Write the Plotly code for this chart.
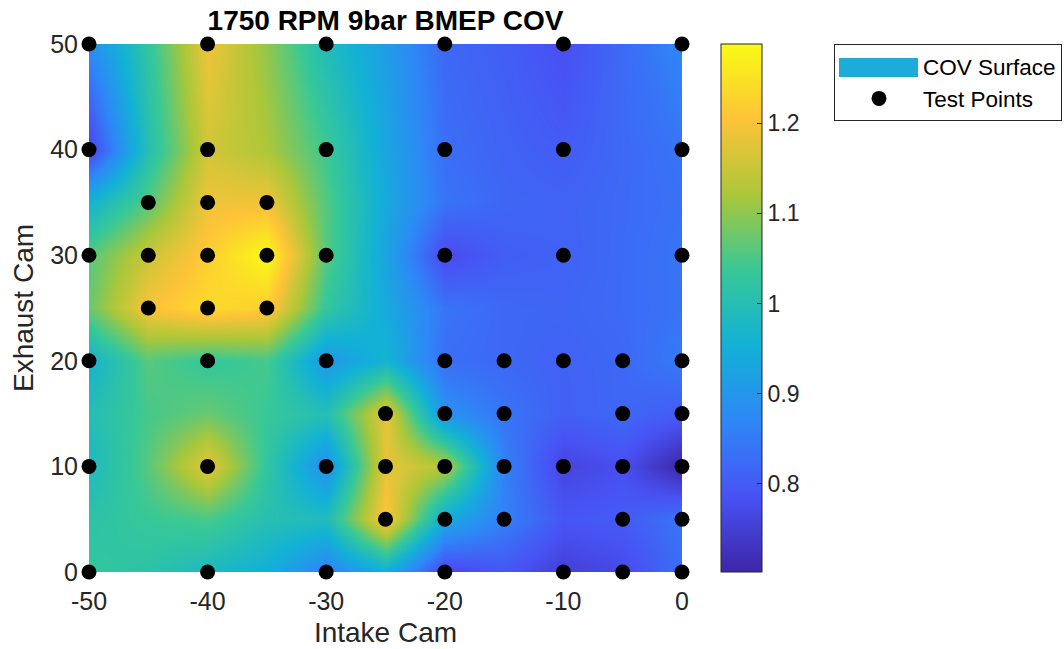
import plotly.graph_objects as go

# Test point coordinates (intake cam, exhaust cam) and COV values
intake = [
    -50, -40, -30, -20, -10, 0,
    -50, -40, -30, -20, -10, 0,
    -45, -40, -35,
    -50, -45, -40, -35, -30, -20, -10, 0,
    -45, -40, -35,
    -50, -40, -30, -20, -15, -10, -5, 0,
    -25, -20, -15, -5, 0,
    -50, -40, -30, -25, -20, -15, -10, -5, 0,
    -25, -20, -15, -5, 0,
    -50, -40, -30, -20, -10, -5, 0,
]
exhaust = [
    50, 50, 50, 50, 50, 50,
    40, 40, 40, 40, 40, 40,
    35, 35, 35,
    30, 30, 30, 30, 30, 30, 30, 30,
    25, 25, 25,
    20, 20, 20, 20, 20, 20, 20, 20,
    15, 15, 15, 15, 15,
    10, 10, 10, 10, 10, 10, 10, 10, 10,
    5, 5, 5, 5, 5,
    0, 0, 0, 0, 0, 0, 0,
]
cov = [
    0.88, 1.19, 0.99, 0.82, 0.78, 0.87,
    0.76, 1.16, 1.04, 0.83, 0.80, 0.84,
    1.06, 1.19, 1.19,
    1.06, 1.15, 1.22, 1.288, 1.06, 0.77, 0.81, 0.84,
    1.20, 1.24, 1.22,
    0.96, 1.03, 0.90, 0.83, 0.82, 0.81, 0.82, 0.85,
    1.18, 0.89, 0.84, 0.82, 0.80,
    0.98, 1.18, 0.88, 1.18, 1.13, 0.86, 0.76, 0.78, 0.702,
    1.21, 0.94, 0.86, 0.80, 0.84,
    1.03, 0.98, 0.86, 0.76, 0.75, 0.77, 0.83,
]

x_ticks = [-50, -40, -30, -20, -10, 0]
x_tick_labels = ["-50", "-40", "-30", "-20", "-10", "0"]
y_ticks = [0, 10, 20, 30, 40, 50]
y_tick_labels = ["0", "10", "20", "30", "40", "50"]
cbar_ticks = [0.8, 0.9, 1.0, 1.1, 1.2]
cbar_tick_labels = ["0.8", "0.9", "1", "1.1", "1.2"]

parula = [
    [0.0, "rgb(62,38,168)"],
    [1 / 7, "rgb(72,82,244)"],
    [2 / 7, "rgb(46,135,247)"],
    [3 / 7, "rgb(18,177,214)"],
    [4 / 7, "rgb(55,200,151)"],
    [5 / 7, "rgb(171,199,57)"],
    [6 / 7, "rgb(254,195,56)"],
    [1.0, "rgb(249,251,21)"],
]

FONT = "Liberation Sans, Arial, sans-serif"
GRAY = "#262626"
SWATCH = "#1BACDA"

fig = go.Figure()

fig.add_trace(go.Contour(
    x=intake, y=exhaust, z=cov,
    connectgaps=True,
    colorscale=parula,
    contours=dict(coloring="heatmap", showlines=False),
    ncontours=60,
    line=dict(width=0),
    showlegend=False,
    hoverinfo="skip",
    colorbar=dict(
        x=(721 - 89) / 593, xanchor="left", xref="paper",
        y=0.5, yanchor="middle", len=1, lenmode="fraction",
        thickness=41, thicknessmode="pixels",
        outlinewidth=1, outlinecolor=GRAY,
        tickvals=cbar_ticks, ticktext=cbar_tick_labels,
        ticks="inside", ticklen=5, tickcolor=GRAY,
        tickfont=dict(family=FONT, size=23, color=GRAY),
        xpad=0, ypad=0,
    ),
))

fig.add_trace(go.Scatter(
    x=[None], y=[None], mode="lines",
    line=dict(width=2, color=SWATCH),
    name="COV Surface",
))

fig.add_trace(go.Scatter(
    x=intake, y=exhaust, mode="markers",
    marker=dict(color="black", size=15),
    cliponaxis=False,
    name="Test Points",
))

# wider legend swatch for the surface entry (the legend clamps line widths)
fig.add_shape(
    type="rect", xref="paper", yref="paper",
    x0=(839 - 89) / 593, x1=(918 - 89) / 593,
    y0=(572 - 77) / 528, y1=(572 - 58) / 528,
    fillcolor=SWATCH, line=dict(width=0), layer="above",
)

fig.update_layout(
    width=1064, height=649,
    margin=dict(l=89, r=382, t=44, b=77, pad=0, autoexpand=False),
    paper_bgcolor="white", plot_bgcolor="white",
    font=dict(family=FONT, color=GRAY),
    title=dict(
        text="1750 RPM 9bar BMEP COV",
        x=385.5 / 1064, xanchor="center", xref="container",
        y=1 - 20 / 649, yanchor="middle", yref="container",
        font=dict(family=FONT, size=28, color="black", weight="bold"),
    ),
    xaxis=dict(
        range=[-50, 0], tickvals=x_ticks, ticktext=x_tick_labels,
        showgrid=False, zeroline=False, automargin=False,
        showline=False, ticks="", ticklabelstandoff=12,
        tickfont=dict(family=FONT, size=25, color=GRAY),
        title=dict(text="Intake Cam", font=dict(family=FONT, size=28, color=GRAY), standoff=8),
    ),
    yaxis=dict(
        range=[0, 50], tickvals=y_ticks, ticktext=y_tick_labels,
        showgrid=False, zeroline=False, automargin=False,
        showline=False, ticks="", ticklabelstandoff=10,
        tickfont=dict(family=FONT, size=25, color=GRAY),
        title=dict(text="Exhaust Cam", font=dict(family=FONT, size=28, color=GRAY), standoff=8),
    ),
    legend=dict(
        x=(834 - 89) / 593, xanchor="left", y=1, yanchor="top",
        bordercolor=GRAY, borderwidth=1, bgcolor="rgba(0,0,0,0)",
        font=dict(family=FONT, size=22.5, color="black"),
        itemwidth=78, tracegroupgap=0,
    ),
)

fig.write_html("out.html")
